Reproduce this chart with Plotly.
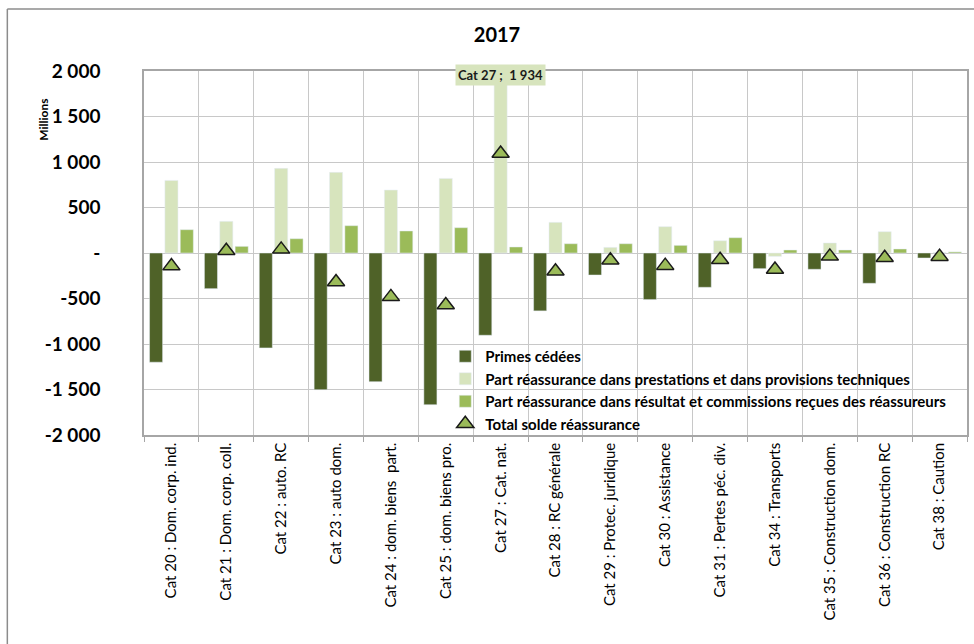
import plotly.graph_objects as go

categories = [
    "Cat 20 : Dom. corp. ind.", "Cat 21 : Dom. corp. coll.", "Cat 22 : auto. RC",
    "Cat 23 : auto dom.", "Cat 24 : dom. biens  part.", "Cat 25 : dom. biens pro.",
    "Cat 27 : Cat. nat.", "Cat 28 : RC générale", "Cat 29 : Protec. juridique",
    "Cat 30 : Assistance", "Cat 31 : Pertes péc. div.", "Cat 34 : Transports",
    "Cat 35 : Construction dom.", "Cat 36 : Construction RC", "Cat 38 : Caution",
]
primes_cedees = [-1200, -392, -1043, -1502, -1414, -1667, -904, -636, -242, -512, -377, -172, -179, -333, -55]
part_prestations = [798, 348, 930, 886, 692, 820, 1934, 337, 62, 289, 135, -37, 110, 234, 5]
part_resultat = [256, 73, 157, 300, 242, 278, 66, 102, 102, 84, 168, 33, 33, 44, 12]
total_solde = [-144, 25, 40, -318, -482, -572, 1094, -200, -80, -139, -74, -182, -37, -53, -40]

y_tickvals = [2000, 1500, 1000, 500, 0, -500, -1000, -1500, -2000]
y_ticktext = ["2 000", "1 500", "1 000", "500", "-", "-500", "-1 000", "-1 500", "-2 000"]

names = [
    "Primes cédées",
    "Part réassurance dans prestations et dans provisions techniques",
    "Part réassurance dans résultat et commissions reçues des réassureurs",
    "Total solde réassurance",
]

fig = go.Figure()
fig.add_trace(go.Bar(x=categories, y=primes_cedees, name=names[0], marker_color="#4f6228"))
fig.add_trace(go.Bar(x=categories, y=part_prestations, name=names[1], marker_color="#d7e4bd"))
fig.add_trace(go.Bar(x=categories, y=part_resultat, name=names[2], marker_color="#9bbb59"))
fig.add_trace(go.Scatter(
    x=categories, y=total_solde, name=names[3], mode="markers",
    marker=dict(symbol="triangle-up", size=15, color="#9bbb59",
                line=dict(color="#1a1a1a", width=1.5)),
))

PL, PR, PT, PB = 144, 969, 71, 435
pw, ph = PR - PL, PB - PT

fig.add_annotation(
    x=categories[6], y=(PB - 64) / ph, xref="x", yref="paper",
    text="<b>Cat 27 ;  1 934</b>", showarrow=False,
    font=dict(family="Lato", size=13, color="#1a1a1a"),
    bgcolor="#d7e4bd", borderpad=2,
)
fig.add_annotation(
    x=(34 - PL) / pw, y=(PB - 97) / ph, xref="paper", yref="paper", text="<b>Millions</b>",
    showarrow=False, textangle=-90, font=dict(family="Lato", size=12, color="#000"),
)

# outer chart border (left and top)
fig.add_shape(type="line", xref="paper", yref="paper", x0=(7 - PL) / pw, x1=1.1,
              y0=(PB - 9) / ph, y1=(PB - 9) / ph, line=dict(color="#8c8c8c", width=1.5))
fig.add_shape(type="line", xref="paper", yref="paper", x0=(7 - PL) / pw, x1=(7 - PL) / pw,
              y0=(PB - 9) / ph, y1=-0.6, line=dict(color="#8c8c8c", width=1.5))

fig.update_layout(
    width=974, height=644,
    margin=dict(l=PL, r=974 - PR, t=PT, b=644 - PB),
    paper_bgcolor="white", plot_bgcolor="white",
    title=dict(text="<b>2017</b>", x=497 / 974, xanchor="center", y=1 - 35 / 644, yanchor="middle",
               font=dict(family="Lato", size=20, color="#000")),
    barmode="group", bargap=0.16, bargroupgap=0.15,
    font=dict(family="Lato", color="#000"),
    showlegend=True,
    legend=dict(x=(446 - PL) / pw, y=(PB - 340) / ph, xanchor="left", yanchor="top",
                bgcolor="rgba(0,0,0,0)",
                font=dict(family="Lato", size=15, color="#000", weight="bold"), traceorder="normal",
                itemwidth=30, tracegroupgap=0),
    xaxis=dict(type="category", range=[-0.5, len(categories) - 0.5], autorange=False,
               tickson="boundaries", showgrid=True, gridcolor="#c8c8c8",
               showline=True, mirror=True, linecolor="#a6a6a6", linewidth=1.5,
               ticks="outside", ticklen=5, tickcolor="#a6a6a6",
               tickangle=-90, tickfont=dict(family="Lato", size=15, color="#000")),
    yaxis=dict(range=[-2000, 2000], tickvals=y_tickvals, ticktext=y_ticktext,
               showgrid=True, gridcolor="#c8c8c8", zeroline=False,
               showline=True, mirror=True, linecolor="#a6a6a6", linewidth=1.5,
               ticklabelstandoff=38,
               tickfont=dict(family="Lato", size=19, color="#000", weight="bold")),
)

fig.write_html("out.html")
